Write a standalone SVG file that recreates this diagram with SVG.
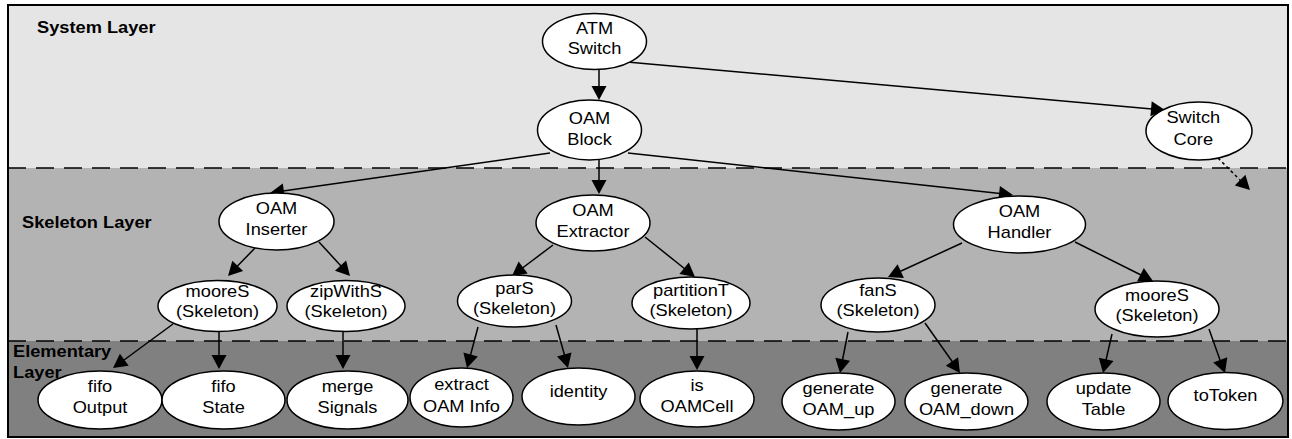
<svg xmlns="http://www.w3.org/2000/svg" width="1292" height="439" viewBox="0 0 1292 439">
<style>
.lbl{font-family:"Liberation Sans",Arial,sans-serif;font-size:16px;font-weight:bold;fill:#000}
.nt{font-family:"Liberation Sans",Arial,sans-serif;font-size:16px;fill:#000;text-anchor:middle}
.node ellipse{fill:#fff;stroke:#000;stroke-width:1.5}
.edge line{stroke:#000;stroke-width:1.5;fill:none}
.edge polygon{fill:#000;stroke:none}
.dot line{stroke-dasharray:3 3}
.sep{stroke:#000;stroke-width:1.5;stroke-dasharray:18 10;fill:none}
</style>
<g id="layers">
<rect x="8" y="5" width="1280" height="163" fill="#e5e5e5"/>
<rect x="8" y="168" width="1280" height="173" fill="#b3b3b3"/>
<rect x="8" y="341" width="1280" height="96" fill="#808080"/>
<line class="sep" x1="8" y1="168" x2="1288" y2="168"/>
<line class="sep" x1="8" y1="341" x2="1288" y2="341"/>
<rect x="8" y="5" width="1280" height="432" fill="none" stroke="#000" stroke-width="2"/>
<text class="lbl" transform="translate(37,33) scale(1.14,1)">System Layer</text>
<text class="lbl" transform="translate(22,228) scale(1.14,1)">Skeleton Layer</text>
<text class="lbl" transform="translate(13,357) scale(1.14,1)">Elementary</text>
<text class="lbl" transform="translate(13,378) scale(1.14,1)">Layer</text>
</g>
<g id="connectors">
<g class="edge"><line x1="599" y1="70" x2="599" y2="87"/><polygon points="599,100 591.5,86 606.5,86"/></g>
<g class="edge"><line x1="627" y1="62" x2="1152" y2="109"/><polygon points="1165,110 1150.4,116.2 1151.7,101.3"/></g>
<g class="edge"><line x1="550" y1="153" x2="283" y2="191"/><polygon points="270,193 282.8,183.6 284.9,198.4"/></g>
<g class="edge"><line x1="599" y1="160" x2="599" y2="181"/><polygon points="599,194 591.5,180 606.5,180"/></g>
<g class="edge"><line x1="628" y1="153" x2="1000" y2="193.5"/><polygon points="1013,195 998.3,200.9 999.9,186.0"/></g>
<g class="edge dot"><line x1="1218" y1="158" x2="1241" y2="181"/><polygon points="1250,190 1234.8,185.4 1245.4,174.8"/></g>
<g class="edge"><line x1="255" y1="248" x2="237" y2="266.5"/><polygon points="228,276 232.3,260.7 243.1,271.1"/></g>
<g class="edge"><line x1="319" y1="242" x2="341" y2="266"/><polygon points="350,276 335.0,270.7 346.1,260.6"/></g>
<g class="edge"><line x1="553" y1="245" x2="522.5" y2="268"/><polygon points="512,276 518.6,261.6 527.7,273.5"/></g>
<g class="edge"><line x1="645" y1="237" x2="685" y2="269"/><polygon points="695,277 679.4,274.1 688.8,262.4"/></g>
<g class="edge"><line x1="962" y1="243" x2="900" y2="271.5"/><polygon points="888,277 897.6,264.3 903.9,278.0"/></g>
<g class="edge"><line x1="1075" y1="242" x2="1141" y2="275"/><polygon points="1153,281 1137.1,281.4 1143.8,268.0"/></g>
<g class="edge"><line x1="173" y1="324" x2="124" y2="360"/><polygon points="113,368 119.9,353.7 128.7,365.8"/></g>
<g class="edge"><line x1="219" y1="331" x2="219" y2="356"/><polygon points="219,369 211.5,355 226.5,355"/></g>
<g class="edge"><line x1="343" y1="331" x2="343" y2="356"/><polygon points="343,369 335.5,355 350.5,355"/></g>
<g class="edge"><line x1="478" y1="327" x2="470.5" y2="355"/><polygon points="467,368 463.4,352.5 477.9,356.4"/></g>
<g class="edge"><line x1="556" y1="325" x2="564.5" y2="355"/><polygon points="568,368 557.0,356.5 571.5,352.5"/></g>
<g class="edge"><line x1="697" y1="329" x2="697" y2="357"/><polygon points="697,370 689.5,356 704.5,356"/></g>
<g class="edge"><line x1="848" y1="332" x2="842.5" y2="360"/><polygon points="840,373 835.3,357.8 850.0,360.7"/></g>
<g class="edge"><line x1="925" y1="323" x2="952.5" y2="362"/><polygon points="960,373 945.8,365.8 958.1,357.2"/></g>
<g class="edge"><line x1="1112" y1="334" x2="1106" y2="360"/><polygon points="1103,373 1098.8,357.7 1113.5,361.0"/></g>
<g class="edge"><line x1="1209" y1="329" x2="1220" y2="360"/><polygon points="1225,373 1213.2,362.4 1227.3,357.3"/></g>
</g>
<g id="n_atm" class="node" transform="translate(594.5,41.5)"><ellipse rx="52" ry="28"/><text class="nt" transform="scale(1.14,1)"><tspan x="0" y="-8">ATM</tspan><tspan x="0" y="12">Switch</tspan></text></g>
<g id="n_block" class="node" transform="translate(589.5,130)"><ellipse rx="52" ry="30"/><text class="nt" transform="scale(1.14,1)"><tspan x="0" y="-6">OAM</tspan><tspan x="0" y="15">Block</tspan></text></g>
<g id="n_core" class="node" transform="translate(1199,131)"><ellipse rx="53" ry="29"/><text class="nt" transform="scale(1.14,1)"><tspan x="-5" y="-8">Switch</tspan><tspan x="-5" y="14">Core</tspan></text></g>
<g id="n_inserter" class="node" transform="translate(276.5,221.5)"><ellipse rx="57.5" ry="28.5"/><text class="nt" transform="scale(1.14,1)"><tspan x="0" y="-7.5">OAM</tspan><tspan x="0" y="13.5">Inserter</tspan></text></g>
<g id="n_extractor" class="node" transform="translate(593,223)"><ellipse rx="57" ry="28"/><text class="nt" transform="scale(1.14,1)"><tspan x="0" y="-7.5">OAM</tspan><tspan x="0" y="13.5">Extractor</tspan></text></g>
<g id="n_handler" class="node" transform="translate(1019.5,224.5)"><ellipse rx="66" ry="28.5"/><text class="nt" transform="scale(1.14,1)"><tspan x="0" y="-7.5">OAM</tspan><tspan x="0" y="13.5">Handler</tspan></text></g>
<g id="n_moore1" class="node" transform="translate(217.5,306)"><ellipse rx="59.5" ry="25.5"/><text class="nt" transform="scale(1.14,1)"><tspan x="0" y="-9">mooreS</tspan><tspan x="0" y="11">(Skeleton)</tspan></text></g>
<g id="n_zip" class="node" transform="translate(346,306)"><ellipse rx="59" ry="25.5"/><text class="nt" transform="scale(1.14,1)"><tspan x="0" y="-9">zipWithS</tspan><tspan x="0" y="11">(Skeleton)</tspan></text></g>
<g id="n_pars" class="node" transform="translate(514.5,301)"><ellipse rx="57" ry="26"/><text class="nt" transform="scale(1.14,1)"><tspan x="0" y="-7">parS</tspan><tspan x="0" y="13">(Skeleton)</tspan></text></g>
<g id="n_part" class="node" transform="translate(691,303)"><ellipse rx="59" ry="26"/><text class="nt" transform="scale(1.14,1)"><tspan x="0" y="-7">partitionT</tspan><tspan x="0" y="13">(Skeleton)</tspan></text></g>
<g id="n_fans" class="node" transform="translate(878,305)"><ellipse rx="57" ry="27"/><text class="nt" transform="scale(1.14,1)"><tspan x="0" y="-9">fanS</tspan><tspan x="0" y="11">(Skeleton)</tspan></text></g>
<g id="n_moore2" class="node" transform="translate(1157,309)"><ellipse rx="62" ry="28"/><text class="nt" transform="scale(1.14,1)"><tspan x="0" y="-8">mooreS</tspan><tspan x="0" y="12">(Skeleton)</tspan></text></g>
<g id="n_fifoout" class="node" transform="translate(100,400)"><ellipse rx="62" ry="29"/><text class="nt" transform="scale(1.14,1)"><tspan x="0" y="-8">fifo</tspan><tspan x="0" y="13">Output</tspan></text></g>
<g id="n_fifostate" class="node" transform="translate(223.5,400)"><ellipse rx="61.5" ry="29"/><text class="nt" transform="scale(1.14,1)"><tspan x="0" y="-8">fifo</tspan><tspan x="0" y="13">State</tspan></text></g>
<g id="n_merge" class="node" transform="translate(347.5,400)"><ellipse rx="60.5" ry="29"/><text class="nt" transform="scale(1.14,1)"><tspan x="0" y="-8">merge</tspan><tspan x="0" y="13">Signals</tspan></text></g>
<g id="n_extract" class="node" transform="translate(461.5,397.5)"><ellipse rx="51.5" ry="29.5"/><text class="nt" transform="scale(1.14,1)"><tspan x="0" y="-7.5">extract</tspan><tspan x="0" y="14">OAM Info</tspan></text></g>
<g id="n_identity" class="node" transform="translate(578.5,396.5)"><ellipse rx="56.5" ry="28.5"/><text class="nt" transform="scale(1.14,1)"><tspan x="0" y="0">identity</tspan></text></g>
<g id="n_isoam" class="node" transform="translate(697,399)"><ellipse rx="57" ry="28"/><text class="nt" transform="scale(1.14,1)"><tspan x="0" y="-8">is</tspan><tspan x="0" y="13">OAMCell</tspan></text></g>
<g id="n_genup" class="node" transform="translate(838.5,401.5)"><ellipse rx="56.5" ry="28.5"/><text class="nt" transform="scale(1.14,1)"><tspan x="0" y="-7.5">generate</tspan><tspan x="0" y="13.5">OAM_up</tspan></text></g>
<g id="n_gendown" class="node" transform="translate(966.5,401.5)"><ellipse rx="61.5" ry="28.5"/><text class="nt" transform="scale(1.14,1)"><tspan x="0" y="-7.5">generate</tspan><tspan x="0" y="13.5">OAM_down</tspan></text></g>
<g id="n_table" class="node" transform="translate(1103.5,401.5)"><ellipse rx="56.5" ry="28.5"/><text class="nt" transform="scale(1.14,1)"><tspan x="0" y="-8">update</tspan><tspan x="0" y="13">Table</tspan></text></g>
<g id="n_totoken" class="node" transform="translate(1225.5,401)"><ellipse rx="57.5" ry="28.5"/><text class="nt" transform="scale(1.14,1)"><tspan x="0" y="0">toToken</tspan></text></g>
</svg>
